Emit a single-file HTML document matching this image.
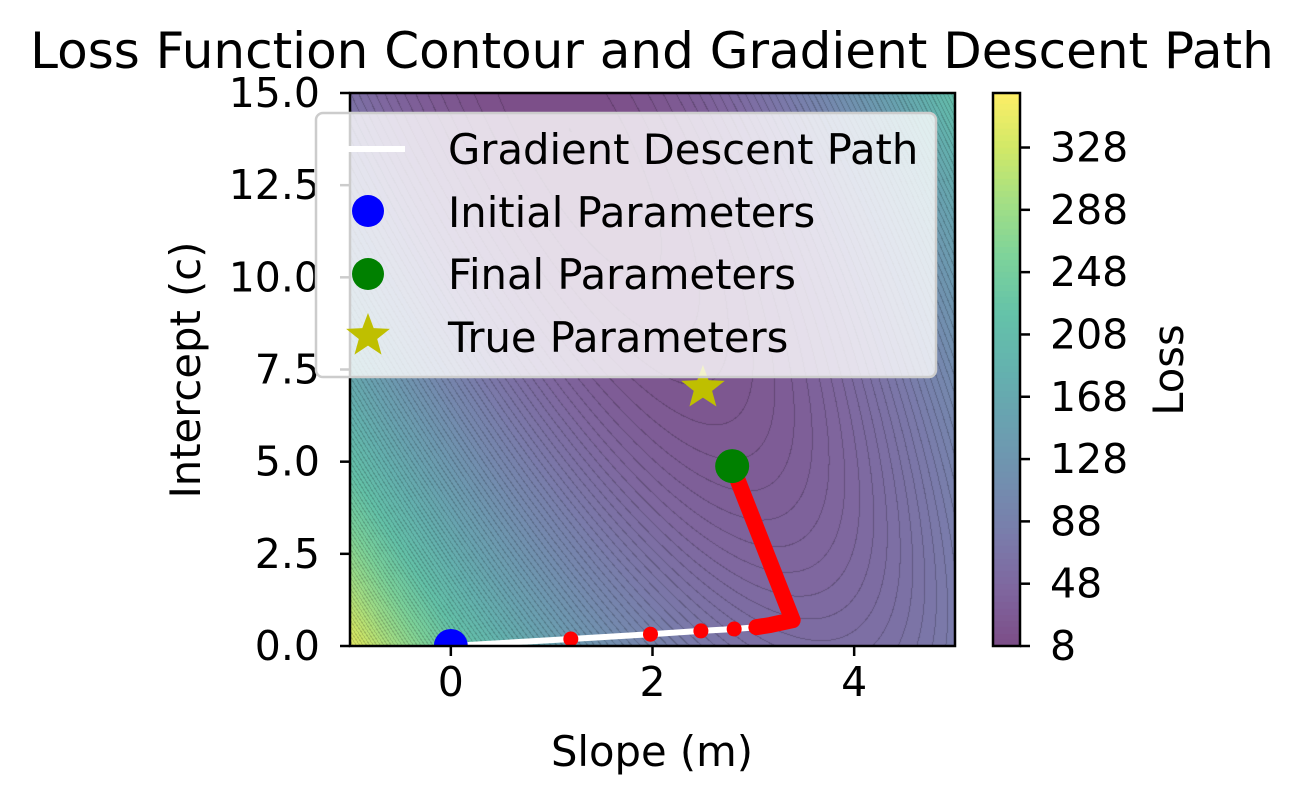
<!DOCTYPE html>
<html><head><meta charset="utf-8"><style>
body{margin:0;background:#fff;width:1304px;height:806px;overflow:hidden;font-family:"DejaVu Sans","Liberation Sans",sans-serif}
#wrap{position:relative;width:1304px;height:806px}
canvas{position:absolute}
svg{position:absolute;left:0;top:0}
</style></head><body>
<div id="wrap">
<canvas id="cf" width="605" height="553" style="left:350px;top:93px"></canvas>
<canvas id="cb" width="27" height="553" style="left:993px;top:93px"></canvas>
<svg id="s" width="1304" height="806" font-family="DejaVu Sans, Liberation Sans, sans-serif"></svg>
</div>
<script>
const pathM=[0,1.19,1.98,2.48,2.81,3.03,3.17,3.25,3.39];
const pathC=[0,0.19,0.32,0.41,0.46,0.51,0.57,0.62,0.70];
const finalP=[2.79,4.88];
const initP=[0,0];
const trueP=[2.5,7];
const xTicks=[0,2,4];
const yTicks=[0,2.5,5,7.5,10,12.5,15];
const cbTicks=[8,48,88,128,168,208,248,288,328];
const valleyU=3.7, valleyC=14, valleyK=0.18, lossA=13, lossEps=0.25, lossMin=8, levelStep=4;

const X0=350,X1=955,Y0=93,Y1=646,xmin=-1,xmax=5,ymin=0,ymax=15,vmin=8,vmax=363;
const sx=v=>X0+(v-xmin)/(xmax-xmin)*(X1-X0);
const sy=v=>Y1-(v-ymin)/(ymax-ymin)*(Y1-Y0);
const loss=(m,c)=>{const du=m+valleyK*c-valleyU,dc=c-valleyC;return lossA*du*du+lossEps*dc*dc+lossMin;};
const V=[[68,1,84],[72,36,117],[65,68,135],[53,95,141],[42,120,142],[33,145,140],[34,168,132],[68,191,112],[122,209,81],[189,223,38],[253,231,37]];
function vir(t){t=Math.max(0,Math.min(1,t))*10;const i=Math.min(9,Math.floor(t)),f=t-i;return V[i].map((a,k)=>a+(V[i+1][k]-a)*f);}
const al=0.7;
(function(){const cv=document.getElementById('cf'),ctx=cv.getContext('2d'),W=cv.width,H=cv.height,img=ctx.createImageData(W,H);
for(let py=0;py<H;py++)for(let px=0;px<W;px++){const m=xmin+(px+0.5)/W*(xmax-xmin),c=ymax-(py+0.5)/H*(ymax-ymin);
const L=Math.min(loss(m,c),vmax-0.01);const lev=Math.floor((L-vmin)/levelStep);const col=vir((lev*levelStep+levelStep/2)/(vmax-vmin));
const Lr=loss(m+(xmax-xmin)/W,c),Ld=loss(m,c-(ymax-ymin)/H);const g=Math.hypot(Lr-L,Ld-L)||1e-6;
const fr=((L-vmin)/levelStep)%1;const dist=Math.min(fr,1-fr)*levelStep/g;
const i=(py*W+px)*4;
for(let j=0;j<3;j++){let v=al*col[j]+(1-al)*255;if(dist<0.5)v=v*0.78;img.data[i+j]=v;}img.data[i+3]=255;}
ctx.putImageData(img,0,0);
const cb=document.getElementById('cb'),c2=cb.getContext('2d');
for(let py=0;py<553;py++){const v=vmax-(py+0.5)/553*(vmax-vmin);const lev=Math.floor((v-vmin)/levelStep);const col=vir((lev*levelStep+levelStep/2)/(vmax-vmin)).map(a=>Math.round(al*a+(1-al)*255));c2.fillStyle=`rgb(${col})`;c2.fillRect(0,py,27,1);}
})();
const s=document.getElementById('s');const NS='http://www.w3.org/2000/svg';
function el(t,a,txt){const e=document.createElementNS(NS,t);for(const k in a)e.setAttribute(k,a[k]);if(txt!==undefined)e.textContent=txt;s.appendChild(e);return e;}
const pts=pathM.map((m,i)=>[sx(m),sy(pathC[i])]);
let e=el('polyline',{points:pts.slice(0,6).map(p=>p.join(',')).join(' '),fill:'none',stroke:'#fff','stroke-width':6});

const redPts=pts.slice(5).concat([[sx(finalP[0]),sy(finalP[1])]]);
e=el('polyline',{points:redPts.map(p=>p.join(',')).join(' '),fill:'none',stroke:'#f00','stroke-width':16,'stroke-linejoin':'round','stroke-linecap':'round'});

pts.slice(1).forEach(p=>{const d=el('circle',{cx:p[0],cy:p[1],r:7.5,fill:'#f00'});

});
e=el('circle',{cx:sx(initP[0]),cy:sy(initP[1]),r:17,fill:'#00f'});
e=el('circle',{cx:sx(finalP[0]),cy:sy(finalP[1]),r:17,fill:'#008000'});
function star(cx,cy,r){let p=[];for(let i=0;i<10;i++){const rr=i%2?r*0.42:r,a=-Math.PI/2+i*Math.PI/5;p.push([cx+rr*Math.cos(a),cy+rr*Math.sin(a)].join(','));}return p.join(' ');}
e=el('polygon',{points:star(sx(trueP[0]),sy(trueP[1]),23),fill:'#bfbf00'});
el('rect',{x:0,y:Y1+1,width:960,height:160,fill:'#fff'});
e=el('rect',{x:X0,y:Y0,width:X1-X0,height:Y1-Y0,fill:'none',stroke:'#000','stroke-width':2.5});
xTicks.forEach(v=>{el('line',{x1:sx(v),x2:sx(v),y1:Y1,y2:Y1+10,stroke:'#000','stroke-width':2.5});
const t=el('text',{x:sx(v),y:Y1+50,'font-size':41,'text-anchor':'middle'},String(v));

});
yTicks.forEach(v=>{el('line',{x1:X0-10,x2:X0,y1:sy(v),y2:sy(v),stroke:'#000','stroke-width':2.5});
const t=el('text',{x:X0-30,y:sy(v)+14,'font-size':41,'text-anchor':'end'},v.toFixed(1));

});
e=el('rect',{x:993,y:Y0,width:27,height:Y1-Y0,fill:'none',stroke:'#000','stroke-width':2.5});
cbTicks.forEach(v=>{const y=Y1-(v-vmin)/(vmax-vmin)*(Y1-Y0);el('line',{x1:1020,x2:1030,y1:y,y2:y,stroke:'#000','stroke-width':2.5});
const t=el('text',{x:1050,y:y+14,'font-size':41},String(v));

});
e=el('text',{x:1183,y:370,'font-size':41.7,'text-anchor':'middle',transform:'rotate(-90 1183 370)'},'Loss');
e=el('text',{x:652,y:68,'font-size':50,'text-anchor':'middle'},'Loss Function Contour and Gradient Descent Path');
e=el('text',{x:652,y:766,'font-size':41.7,'text-anchor':'middle'},'Slope (m)');
e=el('text',{x:200,y:370,'font-size':41.7,'text-anchor':'middle',transform:'rotate(-90 200 370)'},'Intercept (c)');
e=el('rect',{x:316,y:113,width:620,height:264,rx:7,fill:'rgba(255,255,255,0.8)',stroke:'#ccc','stroke-width':2.5});
el('line',{x1:320,x2:405,y1:149,y2:149,stroke:'#fff','stroke-width':6});
el('circle',{cx:368,cy:211,r:16,fill:'#00f'});
el('circle',{cx:368,cy:274,r:16,fill:'#008000'});
el('polygon',{points:star(368,336,23),fill:'#bfbf00'});
[['Gradient Descent Path',164],['Initial Parameters',227],['Final Parameters',289],['True Parameters',352]].forEach(([t,y])=>{const x=el('text',{x:448,y:y,'font-size':41.7},t);

});
</script>
</body></html>
